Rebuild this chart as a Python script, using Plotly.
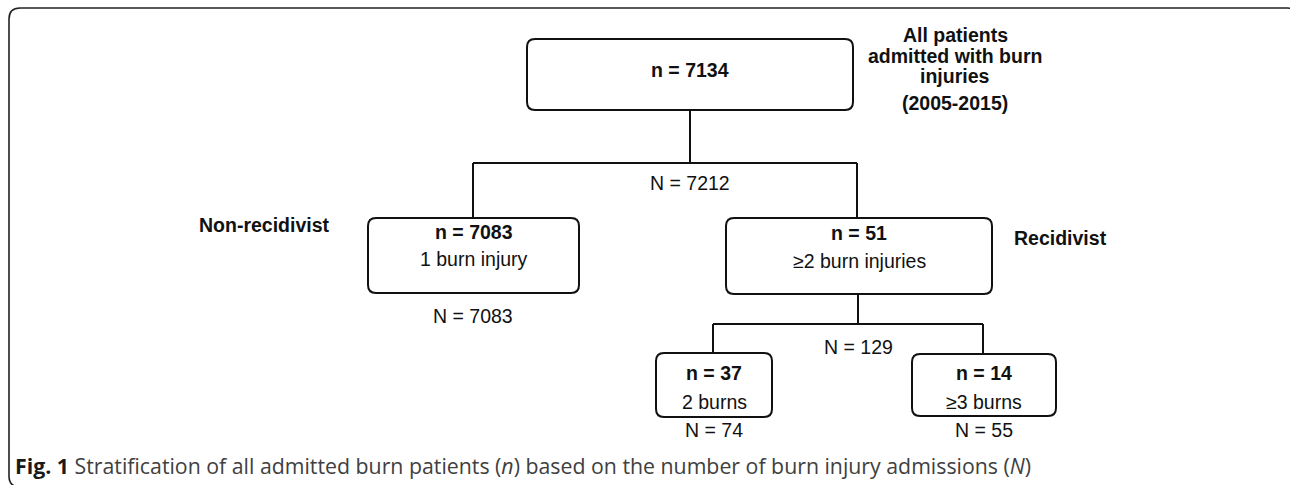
import plotly.graph_objects as go

# ---------------- data ----------------
node_ids = ["all", "nonrec", "rec", "two", "three"]
n_values = [7134, 7083, 51, 37, 14]
N_values = [7212, 7083, 129, 74, 55]
sub_labels = ["", "1 burn injury", "\u22652 burn injuries", "2 burns", "\u22653 burns"]
title_lines = ["All patients", "admitted with burn", "injuries", "(2005-2015)"]
group_labels = ["Non-recidivist", "Recidivist"]
caption_bold = "Fig. 1"
caption_text = "Stratification of all admitted burn patients (<i>n</i>) based on the number of burn injury admissions (<i>N</i>)"

# ---------------- layout (pixel coordinates) ----------------
W, H = 1290, 485
boxes = {  # x0, y0, x1, y1
    "all": (527, 39, 853, 110),
    "nonrec": (368, 218, 579, 293),
    "rec": (726, 218, 992, 294),
    "two": (656, 353, 772, 417),
    "three": (912, 354, 1056, 416),
}
n_text_y = {"all": 70, "nonrec": 232, "rec": 233, "two": 373, "three": 373}
sub_text_y = {"nonrec": 259, "rec": 261, "two": 402, "three": 402}
N_pos = {"all": (690, 183), "nonrec": (473, 316), "rec": (858, 347),
         "two": (714, 430), "three": (984, 430)}
connectors = [
    ((690, 110), (690, 163)), ((473, 163), (857, 163)),
    ((473, 163), (473, 218)), ((857, 163), (857, 218)),
    ((858, 294), (858, 324)), ((713, 324), (983, 324)),
    ((713, 324), (713, 353)), ((983, 324), (983, 354)),
]
FONT = "Liberation Sans, Arial, Helvetica, sans-serif"
FS = 19.5
LINE = "#111111"


def rounded_path(x0, y0, x1, y1, r):
    return (f"M {x0 + r},{y0} L {x1 - r},{y0} Q {x1},{y0} {x1},{y0 + r} "
            f"L {x1},{y1 - r} Q {x1},{y1} {x1 - r},{y1} L {x0 + r},{y1} "
            f"Q {x0},{y1} {x0},{y1 - r} L {x0},{y0 + r} Q {x0},{y0} {x0 + r},{y0} Z")


fig = go.Figure()
shapes = []
annotations = []

# outer frame
shapes.append(dict(type="path", path=rounded_path(9, 8, 1298, 487, 11),
                   line=dict(color="#222222", width=1.6), xref="x", yref="y", layer="below"))

for i, key in enumerate(node_ids):
    x0, y0, x1, y1 = boxes[key]
    cx = (x0 + x1) / 2
    shapes.append(dict(type="path", path=rounded_path(x0, y0, x1, y1, 8),
                       line=dict(color=LINE, width=2), xref="x", yref="y"))
    annotations.append(dict(x=cx, y=n_text_y[key], text=f"<b>n = {n_values[i]}</b>",
                            showarrow=False, font=dict(family=FONT, size=FS, color="#111"),
                            xanchor="center", yanchor="middle"))
    if sub_labels[i]:
        annotations.append(dict(x=cx, y=sub_text_y[key], text=sub_labels[i],
                                showarrow=False, font=dict(family=FONT, size=FS, color="#111"),
                                xanchor="center", yanchor="middle"))
    nx, ny = N_pos[key]
    annotations.append(dict(x=nx, y=ny, text=f"N = {N_values[i]}", showarrow=False,
                            font=dict(family=FONT, size=FS, color="#111"),
                            xanchor="center", yanchor="middle"))

for (a, b) in connectors:
    shapes.append(dict(type="line", x0=a[0], y0=a[1], x1=b[0], y1=b[1],
                       line=dict(color=LINE, width=2), xref="x", yref="y"))

# title block
for txt, y in zip(title_lines, [35, 56, 76, 103]):
    annotations.append(dict(x=955, y=y, text=f"<b>{txt}</b>", showarrow=False,
                            font=dict(family=FONT, size=FS, color="#111"),
                            xanchor="center", yanchor="middle"))

annotations.append(dict(x=197, y=225, text=f"<b>{group_labels[0]}</b>", showarrow=False,
                        font=dict(family=FONT, size=FS, color="#111"),
                        xanchor="left", yanchor="middle"))
annotations.append(dict(x=1012, y=238, text=f"<b>{group_labels[1]}</b>", showarrow=False,
                        font=dict(family=FONT, size=FS, color="#111"),
                        xanchor="left", yanchor="middle"))

# caption
annotations.append(dict(x=13, y=465,
                        text=f"<b><span style='color:#1a1a1a'>{caption_bold}</span></b> {caption_text}",
                        showarrow=False, font=dict(family="Open Sans, sans-serif", size=21.3, color="#404040"),
                        xanchor="left", yanchor="middle"))

fig.update_layout(
    width=W, height=H, margin=dict(l=0, r=0, t=0, b=0),
    paper_bgcolor="white", plot_bgcolor="white",
    xaxis=dict(range=[0, W], visible=False, fixedrange=True),
    yaxis=dict(range=[H, 0], visible=False, fixedrange=True),
    shapes=shapes, annotations=annotations, showlegend=False,
)

fig.write_html("out.html", config={"displayModeBar": False},
               post_script="document.body.style.margin='0';document.body.style.overflow='hidden';")
